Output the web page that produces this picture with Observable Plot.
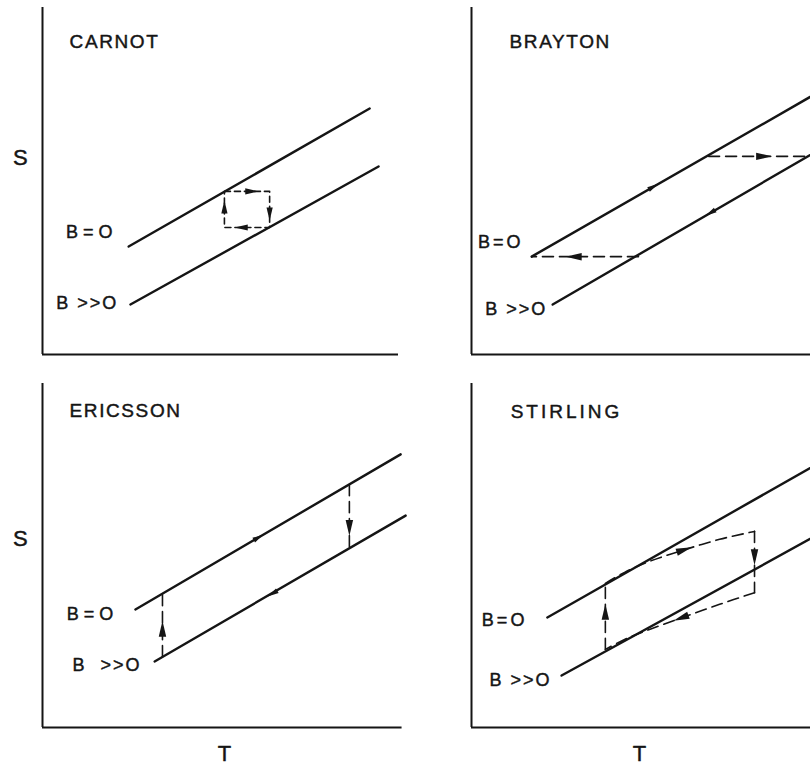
<!DOCTYPE html>
<html><head><meta charset="utf-8">
<script src="https://cdn.jsdelivr.net/npm/d3@7"></script>
<script src="https://cdn.jsdelivr.net/npm/@observablehq/plot@0.6"></script>
<style>
html,body{margin:0;padding:0;background:#fff;}
#fig{position:relative;width:810px;height:767px;overflow:hidden;background:#fff;}
.panel{position:absolute;}
.panel svg{max-width:none !important;display:block;}
</style></head><body><div id="fig"></div>
<script>
// Panels (cycles), in reading order
const panels = ["CARNOT", "BRAYTON", "ERICSSON", "STIRLING"];

// Isofield line B = 0 (endpoints, T and S in arbitrary units)
const lineZero = [
  {panel: "CARNOT", T: 2.42, S: 3.11}, {panel: "CARNOT", T: 9.19, S: 7.09},
  {panel: "BRAYTON", T: 1.69, S: 2.82}, {panel: "BRAYTON", T: 10.0, S: 7.71},
  {panel: "ERICSSON", T: 2.61, S: 3.43}, {panel: "ERICSSON", T: 10.06, S: 7.94},
  {panel: "STIRLING", T: 2.13, S: 3.20}, {panel: "STIRLING", T: 10.0, S: 7.83}
];

// Isofield line B >> 0
const lineHigh = [
  {panel: "CARNOT", T: 2.47, S: 1.44}, {panel: "CARNOT", T: 9.44, S: 5.42},
  {panel: "BRAYTON", T: 2.28, S: 1.44}, {panel: "BRAYTON", T: 10.0, S: 6.04},
  {panel: "ERICSSON", T: 3.15, S: 1.92}, {panel: "ERICSSON", T: 10.2, S: 6.16},
  {panel: "STIRLING", T: 2.53, S: 1.51}, {panel: "STIRLING", T: 10.0, S: 5.76}
];

// Dashed cycle legs (straight)
const cycleLegs = [
  {panel: "CARNOT", leg: "c", T: 5.11, S: 4.70}, {panel: "CARNOT", leg: "c", T: 6.38, S: 4.70},
  {panel: "CARNOT", leg: "c", T: 6.38, S: 3.66}, {panel: "CARNOT", leg: "c", T: 5.11, S: 3.66},
  {panel: "CARNOT", leg: "c", T: 5.11, S: 4.70},
  {panel: "BRAYTON", leg: "top", T: 6.66, S: 5.71}, {panel: "BRAYTON", leg: "top", T: 9.44, S: 5.71},
  {panel: "BRAYTON", leg: "bottom", T: 4.69, S: 2.82}, {panel: "BRAYTON", leg: "bottom", T: 1.69, S: 2.82},
  {panel: "ERICSSON", leg: "left", T: 3.37, S: 2.06}, {panel: "ERICSSON", leg: "left", T: 3.37, S: 3.90},
  {panel: "ERICSSON", leg: "right", T: 8.62, S: 7.06}, {panel: "ERICSSON", leg: "right", T: 8.62, S: 5.23},
  {panel: "STIRLING", leg: "left", T: 3.76, S: 2.27}, {panel: "STIRLING", leg: "left", T: 3.76, S: 4.19},
  {panel: "STIRLING", leg: "right", T: 7.95, S: 5.70}, {panel: "STIRLING", leg: "right", T: 7.95, S: 3.92}
];

// Dashed cycle legs (curved, Stirling)
const cycleCurves = [
  {panel: "STIRLING", leg: "upper", T: 3.76, S: 4.19}, {panel: "STIRLING", leg: "upper", T: 4.30, S: 4.51},
  {panel: "STIRLING", leg: "upper", T: 5.00, S: 4.83}, {panel: "STIRLING", leg: "upper", T: 5.93, S: 5.15},
  {panel: "STIRLING", leg: "upper", T: 6.97, S: 5.47}, {panel: "STIRLING", leg: "upper", T: 7.95, S: 5.70},
  {panel: "STIRLING", leg: "lower", T: 7.95, S: 3.92}, {panel: "STIRLING", leg: "lower", T: 6.97, S: 3.58},
  {panel: "STIRLING", leg: "lower", T: 5.93, S: 3.20}, {panel: "STIRLING", leg: "lower", T: 5.00, S: 2.85},
  {panel: "STIRLING", leg: "lower", T: 4.30, S: 2.56}, {panel: "STIRLING", leg: "lower", T: 3.76, S: 2.27}
];

// Direction arrowheads on the cycle legs (dir: degrees clockwise from "up")
const cycleArrows = [
  {panel: "CARNOT", T: 5.84, S: 4.70, dir: 90},
  {panel: "CARNOT", T: 6.38, S: 4.09, dir: 180},
  {panel: "CARNOT", T: 5.62, S: 3.66, dir: 270},
  {panel: "CARNOT", T: 5.11, S: 4.21, dir: 0},
  {panel: "BRAYTON", T: 8.17, S: 5.71, dir: 90},
  {panel: "BRAYTON", T: 2.92, S: 2.82, dir: 270},
  {panel: "ERICSSON", T: 3.37, S: 2.82, dir: 0},
  {panel: "ERICSSON", T: 8.62, S: 5.85, dir: 180},
  {panel: "STIRLING", T: 3.76, S: 3.31, dir: 0},
  {panel: "STIRLING", T: 7.95, S: 5.00, dir: 180},
  {panel: "STIRLING", T: 5.93, S: 5.15, dir: 72},
  {panel: "STIRLING", T: 5.93, S: 3.20, dir: 250}
];

// Small arrow marks on the solid isofield lines
const lineArrows = [
  {panel: "BRAYTON", T: 5.08, S: 4.82, dir: 60},
  {panel: "BRAYTON", T: 6.74, S: 4.10, dir: 240},
  {panel: "ERICSSON", T: 6.04, S: 5.51, dir: 60},
  {panel: "ERICSSON", T: 6.49, S: 3.91, dir: 240}
];

// Curve labels
const fieldLabels = [
  {panel: "CARNOT", text: "B = O", T: 1.97, S: 3.52},
  {panel: "CARNOT", text: "B >>O", T: 2.13, S: 1.47},
  {panel: "BRAYTON", text: "B=O", T: 1.46, S: 3.23},
  {panel: "BRAYTON", text: "B >>O", T: 2.13, S: 1.30},
  {panel: "ERICSSON", text: "B = O", T: 1.99, S: 3.28},
  {panel: "ERICSSON", text: "B  >>O", T: 2.78, S: 1.80},
  {panel: "STIRLING", text: "B=O", T: 1.57, S: 3.11},
  {panel: "STIRLING", text: "B >>O", T: 2.25, S: 1.37}
];

// Panel titles
const titles = [
  {panel: "CARNOT", text: "CARNOT", T: 0.76, S: 9.02},
  {panel: "BRAYTON", text: "BRAYTON", T: 1.07, S: 9.02},
  {panel: "ERICSSON", text: "ERICSSON", T: 0.76, S: 9.19},
  {panel: "STIRLING", text: "STIRLING", T: 1.10, S: 9.16}
];

// Axis labels
const axisLabels = [
  {panel: "CARNOT", text: "S", T: -0.62, S: 5.65},
  {panel: "ERICSSON", text: "S", T: -0.62, S: 5.49},
  {panel: "ERICSSON", text: "T", T: 5.11, S: -0.76},
  {panel: "STIRLING", text: "T", T: 4.72, S: -0.76}
];

// Extent of the drawn T axis per panel
const axisEnd = [10, 10.6, 10.1, 10.6];

const font = "'Liberation Sans', Arial, Helvetica, sans-serif";
const ink = "#151515";
const arrowSymbol = {
  draw(ctx, size) {
    const s = Math.sqrt(size);
    ctx.moveTo(0, -s * 0.7);
    ctx.lineTo(s * 0.27, s * 0.45);
    ctx.lineTo(-s * 0.27, s * 0.45);
    ctx.closePath();
  }
};

const fig = document.getElementById("fig");
panels.forEach((p, i) => {
  const col = i % 2, row = Math.floor(i / 2);
  const width = col ? 400 : 410;
  const height = row ? 391 : 376;
  const only = (arr) => arr.filter(d => d.panel === p);
  const carnot = p === "CARNOT";
  const textOpts = {x: "T", y: "S", text: "text", fill: ink, stroke: ink, strokeWidth: 0.45, fontFamily: font};
  const chart = Plot.plot({
    width, height,
    marginLeft: 42, marginRight: width - 398, marginTop: 7, marginBottom: row ? 40 : 22,
    x: {domain: [0, 10], axis: null},
    y: {domain: [0, 10], axis: null},
    style: {background: "transparent", overflow: "visible", fontFamily: font},
    marks: [
      Plot.ruleX([0], {y1: 0, y2: 10, stroke: ink, strokeWidth: 2}),
      Plot.ruleY([0], {x1: 0, x2: axisEnd[i], stroke: ink, strokeWidth: 2}),
      Plot.line(only(lineZero), {x: "T", y: "S", stroke: ink, strokeWidth: 2.4}),
      Plot.line(only(lineHigh), {x: "T", y: "S", stroke: ink, strokeWidth: 2.4}),
      Plot.line(only(cycleLegs), {x: "T", y: "S", z: "leg",
        stroke: ink, strokeWidth: 1.6, strokeDasharray: carnot ? "6,4" : "11,6"}),
      Plot.line(only(cycleCurves), {x: "T", y: "S", z: "leg", curve: "catmull-rom",
        stroke: ink, strokeWidth: 1.6, strokeDasharray: "11,6"}),
      Plot.dot(only(cycleArrows), {x: "T", y: "S", rotate: "dir", symbol: arrowSymbol,
        r: carnot ? 6.5 : 7.8, fill: ink, stroke: "none"}),
      Plot.dot(only(lineArrows), {x: "T", y: "S", rotate: "dir", symbol: arrowSymbol,
        r: 5.5, fill: ink, stroke: "none"}),
      Plot.text(only(titles), {...textOpts, textAnchor: "start", fontSize: 19}),
      Plot.text(only(fieldLabels), {...textOpts, textAnchor: "end", fontSize: 18}),
      Plot.text(only(axisLabels), {...textOpts, fontSize: 22})
    ]
  });
  const titleSet = new Set(titles.map(d => d.text));
  d3.select(chart).selectAll("text").each(function () {
    const t = this.textContent;
    if (titleSet.has(t)) d3.select(this).attr("letter-spacing", t === "STIRLING" ? 3 : 1.6);
    else if (t.includes(">>")) d3.select(this).attr("letter-spacing", 2);
    else if (t === "B=O") d3.select(this).attr("letter-spacing", 3);
  });
  const div = document.createElement("div");
  div.className = "panel";
  div.style.left = (col ? 429 : 0) + "px";
  div.style.top = (row ? 376 : 0) + "px";
  div.appendChild(chart);
  fig.appendChild(div);
});
</script></body></html>
